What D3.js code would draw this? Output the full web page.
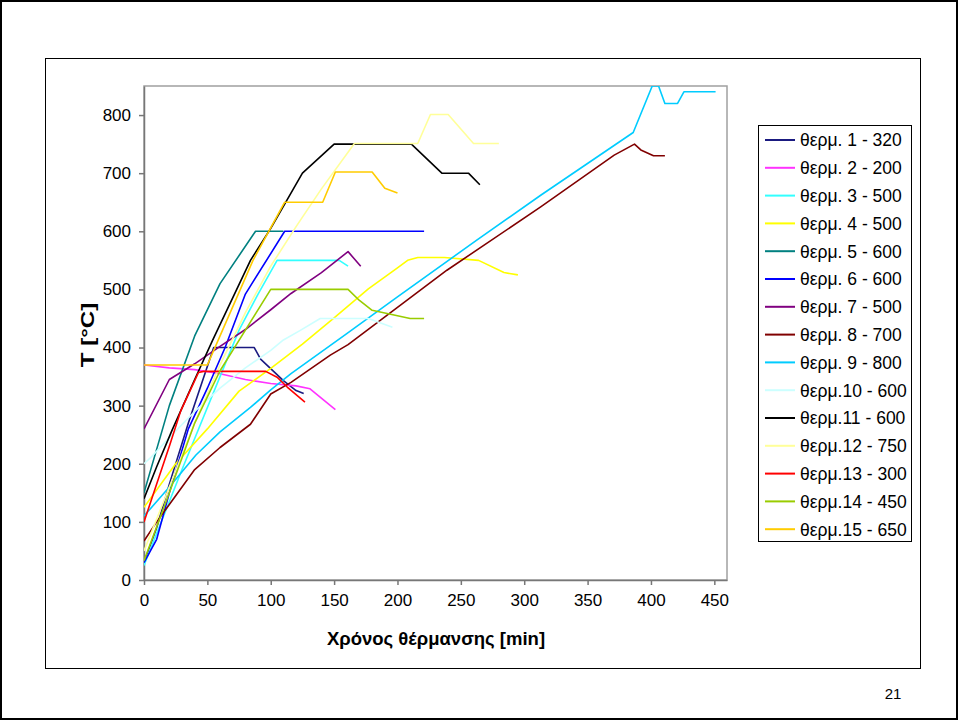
<!DOCTYPE html>
<html>
<head>
<meta charset="utf-8">
<script src="https://cdn.jsdelivr.net/npm/d3@7"></script>
<style>
  body { margin: 0; background: #fff; }
  svg { display: block; font-family: "Liberation Sans", Arial, sans-serif; }
</style>
</head>
<body>
<svg id="chart" width="958" height="720"></svg>
<script>
// series names as in the legend
const seriesNames = ["θερμ. 1 - 320", "θερμ. 2 - 200", "θερμ. 3 - 500", "θερμ. 4 - 500", "θερμ. 5 - 600",
  "θερμ. 6 - 600", "θερμ. 7 - 500", "θερμ. 8 - 700", "θερμ. 9 - 800", "θερμ.10 - 600",
  "θερμ.11 - 600", "θερμ.12 - 750", "θερμ.13 - 300", "θερμ.14 - 450", "θερμ.15 - 650"];

// [time min, temperature °C]
const s1 = [[0,30],[10,90],[20,165],[35,270],[55,400],[87,400],[92,380],[110,343],[120,326],[126,321]];
const s2 = [[0,370],[20,365],[40,362],[60,355],[80,345],[100,338],[120,334],[131,329],[151,293]];
const s3 = [[0,25],[30,190],[75,430],[90,492],[105,550],[154,550],[161,540]];
const s4 = [[0,125],[25,200],[50,260],[75,325],[100,364],[125,406],[150,451],[177,501],[200,537],[208,550],[216,555],[237,555],[264,550],[284,529],[295,525]];
const s5 = [[0,150],[20,300],[40,420],[60,510],[88,600],[110,600]];
const s6 = [[0,30],[10,70],[20,150],[35,260],[50,330],[64,400],[80,492],[111,600],[221,600]];
const s7 = [[0,260],[20,345],[40,372],[60,402],[80,431],[100,465],[116,493],[140,529],[161,565],[171,540]];
const s8 = [[0,67],[10,100],[20,130],[40,190],[60,228],[84,268],[100,320],[116,340],[147,387],[161,405],[239,533],[313,642],[371,731],[387,750],[392,740],[402,730],[411,730]];
const s9 = [[0,110],[20,160],[41,215],[60,255],[84,297],[100,327],[116,355],[160,424],[200,487],[262,584],[313,662],[386,770],[401,850],[406,850],[411,820],[421,820],[426,840],[451,840]];
const s10 = [[0,200],[5,210],[20,245],[40,290],[60,330],[80,365],[100,395],[110,413],[123,429],[139,450],[177,450],[196,435]];
const s11 = [[0,140],[10,195],[22,257],[40,345],[54,412],[84,550],[100,605],[125,700],[150,750],[211,750],[235,700],[256,700],[265,680]];
const s12 = [[0,50],[20,160],[40,270],[60,370],[80,460],[100,540],[120,608],[140,673],[166,751],[216,751],[226,801],[240,801],[260,751],[280,751]];
const s13 = [[0,100],[10,165],[20,230],[29,291],[43,357],[47,359],[96,359],[105,349],[113,332],[127,306]];
const s14 = [[0,33],[20,150],[40,270],[60,360],[80,430],[100,500],[161,500],[170,481],[180,464],[210,450],[221,450]];
const s15 = [[0,370],[50,370],[60,420],[86,550],[111,650],[141,650],[151,702],[180,702],[190,674],[200,666]];

const seriesData = [s1, s2, s3, s4, s5, s6, s7, s8, s9, s10, s11, s12, s13, s14, s15];

const xTickValues = [0, 50, 100, 150, 200, 250, 300, 350, 400, 450];
const yTickValues = [0, 100, 200, 300, 400, 500, 600, 700, 800];

const colors = ["#1a1a80", "#ff33ff", "#33ffff", "#ffff00", "#008080", "#0000ff", "#800080", "#800000",
  "#00ccff", "#ccffff", "#000000", "#ffff99", "#ff0000", "#99cc00", "#ffcc00"];

const svg = d3.select("#chart");

// slide frame and chart frame
svg.append("rect").attr("x", 1).attr("y", 1).attr("width", 956).attr("height", 718)
  .attr("fill", "none").attr("stroke", "#000").attr("stroke-width", 2);
svg.append("rect").attr("x", 45.5).attr("y", 58.5).attr("width", 875).attr("height", 610)
  .attr("fill", "#fff").attr("stroke", "#000").attr("stroke-width", 1);

const plot = { left: 144, right: 727, top: 86, bottom: 580 };

const x = d3.scaleLinear().domain([0, 460]).range([plot.left, plot.right]);
const y = d3.scaleLinear().domain([0, 850]).range([plot.bottom, plot.top]);

svg.append("rect")
  .attr("x", plot.left).attr("y", plot.top)
  .attr("width", plot.right - plot.left).attr("height", plot.bottom - plot.top)
  .attr("fill", "#fff").attr("stroke", "#a0a0a0").attr("stroke-width", 1.5);

svg.append("clipPath").attr("id", "clip")
  .append("rect")
  .attr("x", plot.left).attr("y", plot.top)
  .attr("width", plot.right - plot.left).attr("height", plot.bottom - plot.top);

// axes
const xAxis = svg.append("g")
  .attr("transform", "translate(0," + plot.bottom + ")")
  .call(d3.axisBottom(x).tickValues(xTickValues).tickSize(5).tickPadding(9).tickSizeOuter(0));
const yAxis = svg.append("g")
  .attr("transform", "translate(" + plot.left + ",0)")
  .call(d3.axisLeft(y).tickValues(yTickValues).tickSize(5).tickPadding(8).tickSizeOuter(0));

[xAxis, yAxis].forEach(g => {
  g.select(".domain").attr("stroke", "#777").attr("stroke-width", 1.5);
  g.selectAll(".tick line").attr("stroke", "#777").attr("stroke-width", 1.5);
  g.selectAll(".tick text").attr("fill", "#000").style("font-size", "17px")
    .style("font-family", "'Liberation Sans', Arial, sans-serif");
});

// lines
const line = d3.line().x(d => x(d[0])).y(d => y(d[1]));
svg.append("g").attr("clip-path", "url(#clip)")
  .selectAll("path")
  .data(seriesData)
  .enter()
  .append("path")
  .attr("d", d => line(d))
  .attr("fill", "none")
  .attr("stroke", (d, i) => colors[i])
  .attr("stroke-width", 1.6)
  .attr("stroke-linejoin", "round");

// axis titles
svg.append("text")
  .attr("x", 436).attr("y", 645)
  .attr("text-anchor", "middle")
  .style("font-size", "18.5px").style("font-weight", "bold")
  .text("Χρόνος θέρμανσης [min]");

svg.append("text")
  .attr("transform", "translate(94,335) rotate(-90) scale(1.3,1)")
  .attr("text-anchor", "middle")
  .style("font-size", "18.5px").style("font-weight", "bold")
  .text("T [°C]");

// legend
const legend = svg.append("g");
legend.append("rect")
  .attr("x", 758.5).attr("y", 125.5).attr("width", 153).attr("height", 416)
  .attr("fill", "#fff").attr("stroke", "#000").attr("stroke-width", 1);

const items = legend.selectAll("g.item")
  .data(seriesNames)
  .enter()
  .append("g")
  .attr("class", "item")
  .attr("transform", (d, i) => "translate(0," + (140 + i * 27.8) + ")");

items.append("line")
  .attr("x1", 765).attr("x2", 795).attr("y1", 0).attr("y2", 0)
  .attr("stroke", (d, i) => colors[i]).attr("stroke-width", 2);

items.append("text")
  .attr("x", 800).attr("y", 0).attr("dy", "0.36em")
  .style("font-size", "17.5px")
  .text(d => d);

// page number
svg.append("text")
  .attr("x", 893).attr("y", 699)
  .attr("text-anchor", "middle")
  .style("font-size", "15px")
  .text("21");
</script>
</body>
</html>
